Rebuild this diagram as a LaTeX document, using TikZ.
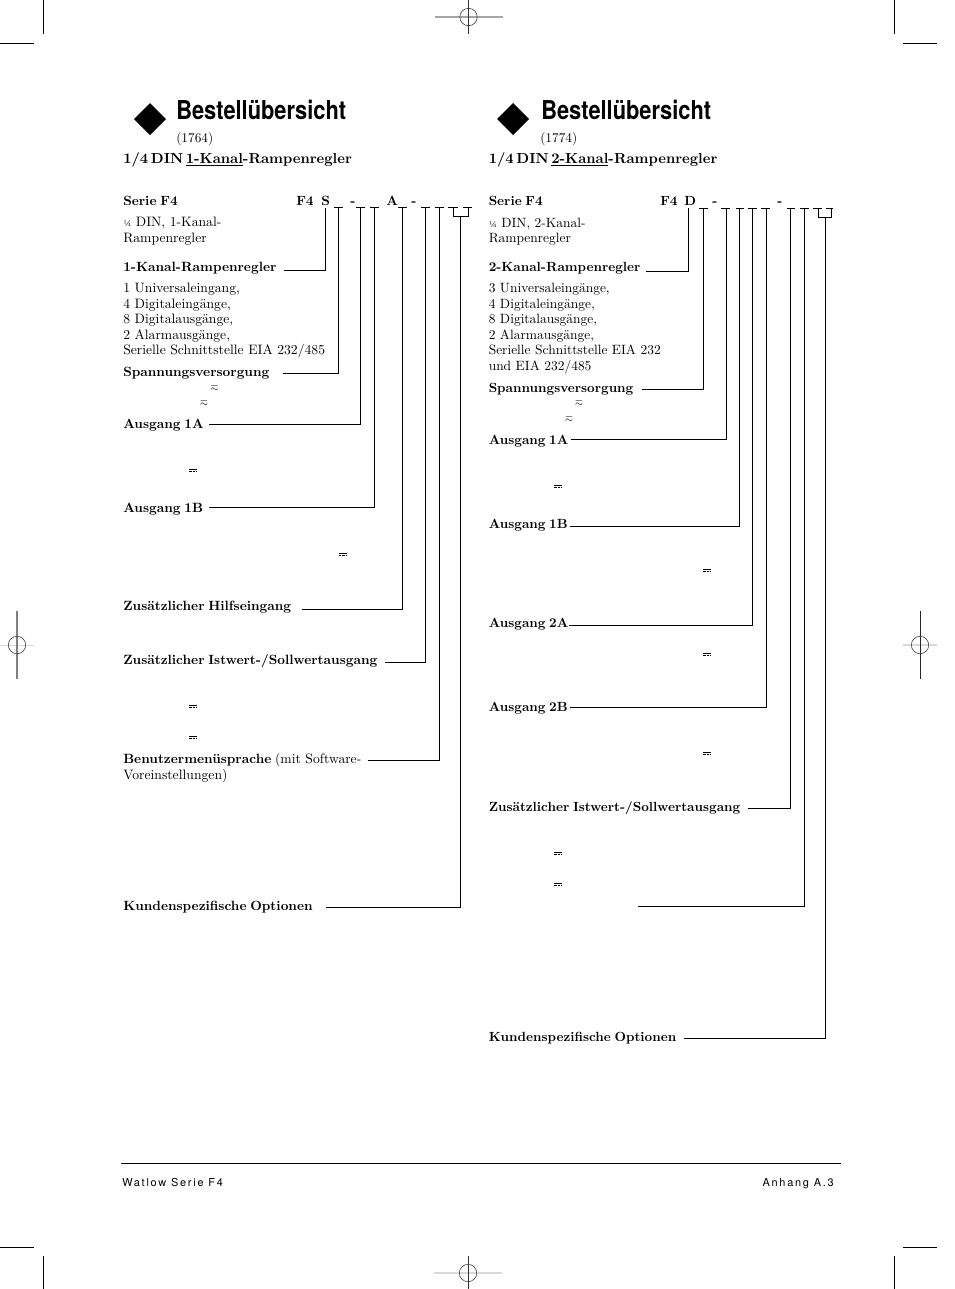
\documentclass[tikz,border=0pt]{standalone}
\usepackage{amssymb}
\usepackage{fontspec}
\newfontfamily\titlefont[FakeStretch=.84]{TeX Gyre Heros}
\newfontfamily\footfont[LetterSpace=16]{TeX Gyre Heros}
\newcommand{\tightsp}[1]{\spaceskip=#1em plus .1em minus .05em\relax}
\tikzset{
	body/.style={anchor=base west, inner sep=0, font=\fontsize{10.1}{12}\selectfont},
	bodyL/.style={body, font=\fontsize{10.25}{12}\selectfont},
	lbl/.style={anchor=base west, inner sep=0, font=\fontsize{9.95}{12}\selectfont\bfseries, execute at begin node={\tightsp{.28}}, text height=7.5pt, text depth=2.5pt},
	lblL/.style={lbl, font=\fontsize{10.05}{12}\selectfont\bfseries},
	numtext/.style={body, font=\fontsize{10}{11}\selectfont},
	headline/.style={anchor=base west, inner sep=0, font=\fontsize{10.9}{13}\selectfont\bfseries, execute at begin node={\tightsp{.18}}},
	titletext/.style={anchor=base west, inner sep=0, font=\titlefont\fontsize{19.5}{22}\selectfont\bfseries},
	foottext/.style={inner sep=0, font=\footfont\fontsize{8.2}{10}\selectfont},
	diamondmark/.style={fill=black, draw=none},
	conn/.style={line width=.75pt},
	crop/.style={line width=.75pt},
	regc/.style={line width=.45pt, black!75},
}
\newcommand{\quarter}{{\fontsize{6.5}{8}\selectfont ¼}}
\begin{document}
\begin{tikzpicture}[x=.75pt, y=-.75pt]
\useasboundingbox (0,0) rectangle (954,1289);

% crop marks
\foreach \x/\xa/\xb in {43/0/34,894.5/903/937} {
	\draw[crop] (\x,0) -- (\x,34); \draw[crop] (\xa,43) -- (\xb,43);
	\draw[crop] (\x,1256) -- (\x,1289); \draw[crop] (\xa,1247) -- (\xb,1247);
}
\foreach \cx/\cy/\lh/\lv/\wh/\wv/\ch/\cv in {468.5/17/34/17/.9/.45/35/80,468/1273/34/17/.9/.45/15/80,17/645/17/34/.6/.9/15/50,920/645/17/34/.9/.45/15/85} {
	\draw[line width=\wh pt, black!\ch] (\cx-\lh,\cy) -- (\cx+\lh,\cy);
	\draw[line width=\wv pt, black!\cv] (\cx,\cy-\lv) -- (\cx,\cy+\lv);
	\draw[regc] (\cx,\cy) circle (8.7);
}

% left column head
\fill[diamondmark] (134,119) -- (150,103) -- (166,119) -- (150,135) -- cycle;
\node[titletext] (titleL) at (176,119) {Bestellübersicht};
\node[numtext] (numL) at (176,142.5) {(1764)};
\node[headline] (headL) at (123,163.5) {1/4 DIN \underline{1-Kanal}-Rampenregler};
\node[lblL] (serieL) at (123,205) {Serie F4};
\foreach \t/\x in {F4/296,S/321,-/350,A/386,-/411} \node[lblL] (codeL\x) at (\x,205) {\t};

\foreach \a/\b in {334/343,356/365,370/379,398/407,421/430,435/444,448/458,463/472} \draw[conn] (\a,207) -- (\b,207);
\draw[conn] (453,207) -- (453,216) -- (468,216) -- (468,207);

\coordinate (topLa) at (325,208); \coordinate (topLb) at (338,207);
\coordinate (topLc) at (360,207); \coordinate (topLd) at (374,207);
\coordinate (topLe) at (402,207); \coordinate (topLf) at (425,207);
\coordinate (topLg) at (439,207); \coordinate (topLh) at (460,216);

\node[bodyL] (sizeL) at (123,226) {\quarter{} DIN, 1-Kanal-};
\node[bodyL] (sizeLb) at (123,242) {Rampenregler};
\foreach \t/\y in {{1 Universaleingang,}/292,{4 Digitaleingänge,}/308,{8 Digitalausgänge,}/323,{2 Alarmausgänge,}/339,{Serielle Schnittstelle EIA 232/485}/354}
	\node[bodyL] (inL\y) at (123,\y) {\t};
\node[bodyL] (voreinst) at (123,779) {Voreinstellungen)};

\node[lblL] (kanalL) at (123,271) {1-Kanal-Rampenregler};
\node[lblL] (spanL) at (123,376) {Spannungsversorgung};
\node[lblL] (a1aL) at (123,428) {Ausgang 1A};
\node[lblL] (a1bL) at (123,512) {Ausgang 1B};
\node[lblL] (hilfL) at (123,610) {Zusätzlicher Hilfseingang};
\node[lblL] (istL) at (123,664) {Zusätzlicher Istwert-/Sollwertausgang};
\node[lblL] (menuL) at (123,763) {Benutzermenüsprache {\mdseries\fontsize{10.25}{12}\selectfont\spaceskip=0pt (mit Software-}};
\node[lblL] (kundL) at (123,910) {Kundenspezifische Optionen};

\foreach \from/\dx/\dy/\to in {kanalL/7/2.8/topLa,spanL/13/1.3/topLb,a1aL/5/.3/topLc,a1bL/6/-.7/topLd,hilfL/11/2.8/topLe,istL/7/1.8/topLf,menuL/6/.8/topLg,kundL/13/.8/topLh}
	\draw[conn] ([shift={(\dx,\dy)}]\from.east) -| (\to);

% right column head
\fill[diamondmark] (497,119) -- (513,103) -- (529,119) -- (513,135) -- cycle;
\node[titletext] (titleR) at (541,119) {Bestellübersicht};
\node[numtext] (numR) at (540,142.5) {(1774)};
\node[headline] (headR) at (488.5,163.5) {1/4 DIN \underline{2-Kanal}-Rampenregler};
\node[lbl] (serieR) at (488.5,205.5) {Serie F4};
\foreach \t/\x in {F4/660,D/684,-/712,-/777} \node[lbl] (codeR\x) at (\x,205.5) {\t};

\foreach \a/\b in {699/708,721/730,736/744,748/757,761/770,787/795,800/809,813/822,826/833} \draw[conn] (\a,208) -- (\b,208);
\draw[conn] (818,208) -- (818,217) -- (831,217) -- (831,208);

\coordinate (topRa) at (688,208); \coordinate (topRb) at (703,208);
\coordinate (topRc) at (726,208); \coordinate (topRd) at (739,208);
\coordinate (topRe) at (752,208); \coordinate (topRf) at (766,208);
\coordinate (topRg) at (790.5,208); \coordinate (topRh) at (804,208);
\coordinate (topRi) at (825,217); \coordinate (freeR) at (638,906.5);

\node[body] (sizeR) at (488.5,227) {\quarter{} DIN, 2-Kanal-};
\node[body] (sizeRb) at (488.5,242) {Rampenregler};
\foreach \t/\y in {{3 Universaleingänge,}/292,{4 Digitaleingänge,}/308,{8 Digitalausgänge,}/323,{2 Alarmausgänge,}/339,{Serielle Schnittstelle EIA 232}/354,{und EIA 232/485}/370}
	\node[body] (inR\y) at (488.5,\y) {\t};

\node[lbl] (kanalR) at (488.5,271) {2-Kanal-Rampenregler};
\node[lbl] (spanR) at (488.5,392) {Spannungsversorgung};
\node[lbl] (a1aR) at (488.5,444) {Ausgang 1A};
\node[lbl] (a1bR) at (488.5,528) {Ausgang 1B};
\node[lbl] (a2aR) at (488.5,627) {Ausgang 2A};
\node[lbl] (a2bR) at (488.5,711) {Ausgang 2B};
\node[lbl] (istR) at (488.5,811) {Zusätzlicher Istwert-/Sollwertausgang};
\node[lbl] (kundR) at (488.5,1041) {Kundenspezifische Optionen};

\foreach \from/\dx/\dy/\to in {kanalR/5/4/topRa,spanR/8/1/topRb,a1aR/2/-1/topRc,a1bR/2/2/topRd,a2aR/0/2/topRe,a2bR/2/0/topRf,istR/7/1/topRg,kundR/7/1/topRi}
	\draw[conn] ([shift={(\dx,\dy)}]\from.east) -| (\to);
\draw[conn] (freeR) -| (topRh);

% current symbols
\foreach \n/\x/\y in {acLa/214.5/388,acLb/204/403,acRa/579/403,acRb/569/419}
	\node[inner sep=0, font=\scriptsize] (\n) at (\x,\y) {$\eqsim$};
\foreach \x/\y in {193/470.5,342.5/554,193/706,193/737,558/486,707/570,707/654,707/753,558/853,558/884} {
	\draw[line width=.6pt] (\x-4,\y-1) -- (\x+4,\y-1);
	\draw[line width=.6pt, dash pattern=on 2pt off .7pt] (\x-4,\y+1) -- (\x+4,\y+1);
}

% footer
\coordinate (ruleA) at (121,1163); \coordinate (ruleB) at (841,1163);
\draw[line width=.6pt] (ruleA) -- (ruleB);
\node[foottext, anchor=base west] (footL) at (122,1186) {Watlow Serie F4};
\node[foottext, anchor=base east] (footR) at (834,1186) {Anhang A.3};
\end{tikzpicture}
\end{document}
